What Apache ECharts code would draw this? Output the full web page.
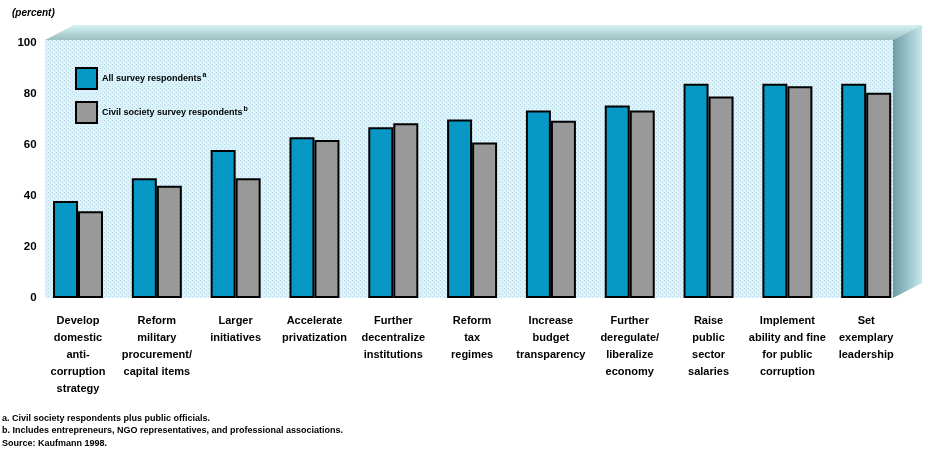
<!DOCTYPE html>
<html>
<head>
<meta charset="utf-8">
<script src="https://cdn.jsdelivr.net/npm/echarts@6/dist/echarts.min.js"></script>
<style>
html,body{margin:0;padding:0;background:#fff;}
#c{width:928px;height:453px;}
</style>
</head>
<body>
<div id="c"></div>
<script>
var categories = [
  "Develop\ndomestic\nanti-\ncorruption\nstrategy",
  "Reform\nmilitary\nprocurement/\ncapital items",
  "Larger\ninitiatives",
  "Accelerate\nprivatization",
  "Further\ndecentralize\ninstitutions",
  "Reform\ntax\nregimes",
  "Increase\nbudget\ntransparency",
  "Further\nderegulate/\nliberalize\neconomy",
  "Raise\npublic\nsector\nsalaries",
  "Implement\nability and fine\nfor public\ncorruption",
  "Set\nexemplary\nleadership"
];
var allRespondents = [38, 47, 58, 63, 67, 70, 73.5, 75.5, 84, 84, 84];
var civilSociety = [34, 44, 47, 62, 68.5, 61, 69.5, 73.5, 79, 83, 80.5];
var yTicks = [0, 20, 40, 60, 80, 100];
var seriesNames = ["All survey respondents", "Civil society survey respondents"];
var seriesMarks = ["a", "b"];
var footnotes = [
  "a. Civil society respondents plus public officials.",
  "b. Includes entrepreneurs, NGO representatives, and professional associations.",
  "Source: Kaufmann 1998."
];

var FONT = "Liberation Sans";

// dotted wall pattern
var pc = document.createElement('canvas');
pc.width = 4; pc.height = 4;
var pctx = pc.getContext('2d');
pctx.fillStyle = '#d6f6f7'; pctx.fillRect(0,0,4,4);
pctx.fillStyle = '#c6cdef';
pctx.fillRect(0,0,1,1); pctx.fillRect(2,2,1,1);

var chart = echarts.init(document.getElementById('c'), null, {renderer:'canvas'});

var WL = 45, WR = 893, WT = 40, WB = 298, DX = 29, DY = 15;

var option = {
  animation: false,
  backgroundColor: '#ffffff',
  textStyle: {fontFamily: FONT},
  grid: {left: 38.6, right: 22.4, top: 43, bottom: 155, containLabel: false},
  legend: {
    orient: 'vertical',
    left: 70, top: 62,
    itemWidth: 21, itemHeight: 21, itemGap: 11,
    icon: 'rect',
    data: seriesNames,
    formatter: function(n){ var i = seriesNames.indexOf(n); return '{t|' + n + '}{s|' + seriesMarks[i] + '}'; },
    textStyle: {
      fontFamily: FONT, fontWeight: 'bold', fontSize: 9, color: '#000',
      rich: {
        t: {fontFamily: FONT, fontWeight: 'bold', fontSize: 9, color: '#000'},
        s: {fontFamily: FONT, fontWeight: 'bold', fontSize: 7, color: '#000', verticalAlign: 'top', padding: [0,0,6,1]}
      }
    }
  },
  xAxis: {
    type: 'category',
    data: categories,
    axisLine: {show: false},
    axisTick: {show: false},
    axisLabel: {
      interval: 0, margin: 14,
      fontFamily: FONT, fontWeight: 'bold', fontSize: 11, lineHeight: 17, color: '#000'
    }
  },
  yAxis: {
    type: 'value',
    min: yTicks[0], max: yTicks[yTicks.length-1], interval: 20,
    axisLine: {show: false},
    axisTick: {show: false},
    splitLine: {show: false},
    axisLabel: {margin: 2, fontFamily: FONT, fontWeight: 'bold', fontSize: 11.5, color: '#000'}
  },
  series: [
    {
      name: seriesNames[0], type: 'bar', data: allRespondents,
      barWidth: 25, barGap: '0%',
      itemStyle: {color: '#0898c6', borderColor: '#000', borderWidth: 2},
      z: 3
    },
    {
      name: seriesNames[1], type: 'bar', data: civilSociety,
      barWidth: 25, barGap: '0%',
      itemStyle: {color: '#999999', borderColor: '#000', borderWidth: 2},
      z: 3
    }
  ],
  graphic: [
    {type: 'rect', z: -10, shape: {x: WL, y: WT, width: WR-WL, height: WB-WT},
     style: {fill: {image: pc, repeat: 'repeat'}}},
    {type: 'polygon', z: -10, shape: {points: [[WL, WT], [WL+DX, WT-DY], [WR+DX, WT-DY], [WR, WT]]},
     style: {fill: new echarts.graphic.LinearGradient(0,0,0,1,[{offset:0,color:'#d4f2f4'},{offset:1,color:'#9cbfc0'}])}},
    {type: 'polygon', z: -10, shape: {points: [[WR, WT], [WR+DX, WT-DY], [WR+DX, WB-DY], [WR, WB]]},
     style: {fill: new echarts.graphic.LinearGradient(0,0,1,0,[{offset:0,color:'#6e9ca6'},{offset:1,color:'#c4e8ec'}])}},
    {type: 'text', left: 12, top: 8,
     style: {text: '(percent)', fontFamily: FONT, fontStyle: 'italic', fontWeight: 'bold', fontSize: 10, fill: '#000'}},
    {type: 'text', left: 2, top: 412,
     style: {text: footnotes.join('\n'), fontFamily: FONT, fontWeight: 'bold', fontSize: 9, lineHeight: 12.5, fill: '#000'}}
  ]
};
chart.setOption(option);
</script>
</body>
</html>
